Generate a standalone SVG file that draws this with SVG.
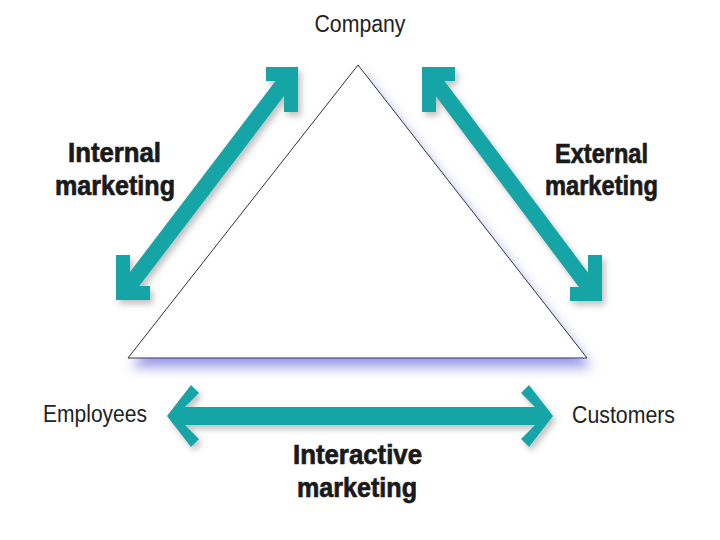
<svg xmlns="http://www.w3.org/2000/svg" width="720" height="540" viewBox="0 0 720 540">
<defs>
<style>
.lbl{font-family:"Liberation Sans",Arial,sans-serif;font-size:23px;fill:#222}
.bl{font-family:"Liberation Sans",Arial,sans-serif;font-size:27px;font-weight:bold;fill:#1a1a1a;stroke:#1a1a1a;stroke-width:0.7}
.arm{fill:none;stroke:#16a5a6;stroke-width:14;stroke-linejoin:miter;stroke-miterlimit:10}
.shaft{stroke:#16a5a6;stroke-width:16;stroke-linecap:butt}
</style>
<filter id="tsh" x="-10%" y="-10%" width="125%" height="130%">
<feDropShadow dx="4" dy="9" stdDeviation="6" flood-color="#6868d8" flood-opacity="0.65"/>
</filter>
<filter id="ash" x="-10%" y="-10%" width="125%" height="130%">
<feDropShadow dx="3" dy="4" stdDeviation="3" flood-color="#777" flood-opacity="0.45"/>
</filter>
</defs>
<rect width="720" height="540" fill="#fff"/>
<g id="triangle">
<polygon points="358,65 128,358 587,358" fill="#fff" stroke="#333" stroke-width="1" filter="url(#tsh)"/>
</g>
<g id="connectors" filter="url(#ash)">
<g id="internal-arrow">
<polyline class="arm" points="266,74 291,74 291,112"/>
<polyline class="arm" points="123,255 123,293 150,293"/>
<line class="shaft" x1="287" y1="79" x2="127" y2="289"/>
</g>
<g id="external-arrow">
<polyline class="arm" points="455,74 429,74 429,112"/>
<polyline class="arm" points="595,255 595,294 570,294"/>
<line class="shaft" x1="433" y1="79" x2="591" y2="290"/>
</g>
<g id="interactive-arrow">
<polygon fill="#16a5a6" points="167,416 191,385 199,393 185,407 535,407 521,393 529,385 553,416 529,447 521,439 535,425 185,425 199,439 191,447"/>
</g>
</g>
<g id="company"><text class="lbl" x="360" y="32" text-anchor="middle" textLength="91" lengthAdjust="spacingAndGlyphs" font-size="25">Company</text></g>
<g id="employees"><text class="lbl" x="43" y="422" textLength="104" lengthAdjust="spacingAndGlyphs">Employees</text></g>
<g id="customers"><text class="lbl" x="572" y="423" textLength="103" lengthAdjust="spacingAndGlyphs">Customers</text></g>
<g id="internal-label">
<text class="bl" x="68" y="162" textLength="93" lengthAdjust="spacingAndGlyphs">Internal</text>
<text class="bl" x="55" y="195" textLength="120" lengthAdjust="spacingAndGlyphs">marketing</text>
</g>
<g id="external-label">
<text class="bl" x="555" y="163" textLength="93" lengthAdjust="spacingAndGlyphs">External</text>
<text class="bl" x="545" y="195" textLength="113" lengthAdjust="spacingAndGlyphs">marketing</text>
</g>
<g id="interactive-label">
<text class="bl" x="293" y="464" textLength="129" lengthAdjust="spacingAndGlyphs">Interactive</text>
<text class="bl" x="297" y="497" textLength="120" lengthAdjust="spacingAndGlyphs">marketing</text>
</g>
</svg>
